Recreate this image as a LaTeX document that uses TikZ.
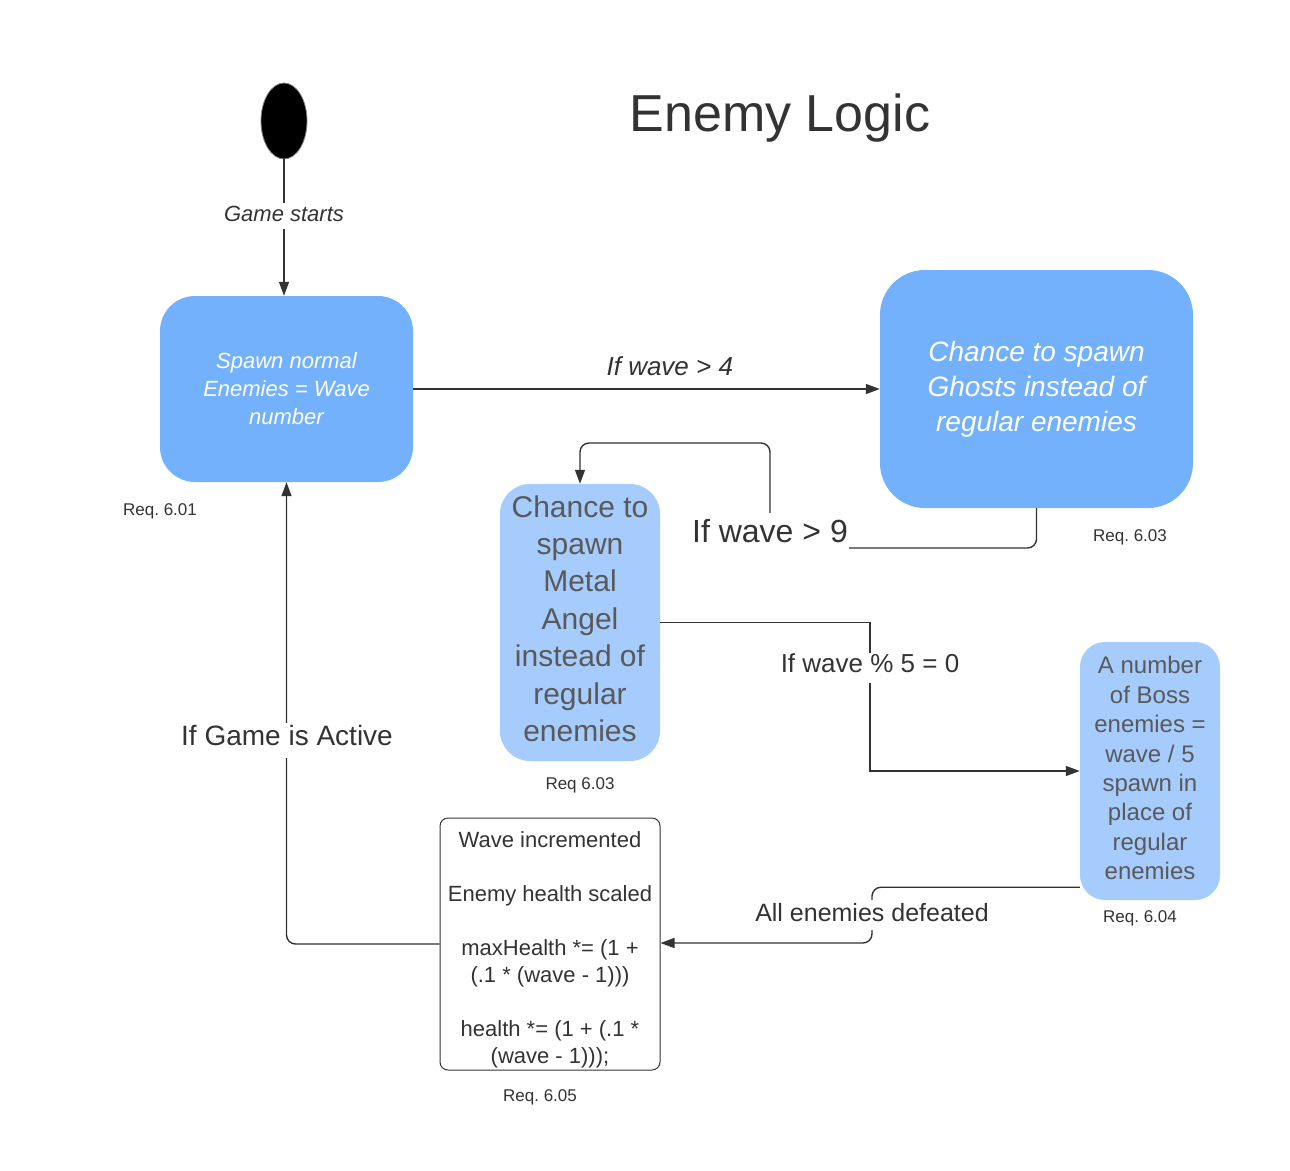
\documentclass[tikz,border=0pt]{standalone}
\usepackage{fontspec}
\setmainfont{Liberation Sans}
\usetikzlibrary{arrows.meta,calc,shapes.geometric}
\definecolor{darkblue}{HTML}{73B1FC}
\definecolor{lightblue}{HTML}{A6CCFD}
\definecolor{ink}{HTML}{333333}
\definecolor{greytext}{HTML}{595959}
\frenchspacing
\begin{document}
\begin{tikzpicture}[x=1pt,y=-1pt,
  statebox/.style={inner sep=0pt, align=center},
  conn/.style={draw=ink, line width=1.4pt, -{Triangle[length=14pt,width=10pt]}},
  lab/.style={fill=white, text=ink, anchor=base, inner xsep=1pt, inner ysep=0pt},
  req/.style={text=ink, font=\fontsize{17}{20}\selectfont}]
\useasboundingbox (0,0) rectangle (1290,1170);
\fill[white] (0,0) rectangle (1290,1170);

\node[text=ink, font=\fontsize{52}{60}\selectfont] (title) at (780,118) {Enemy Logic};

\node[ellipse, fill=black, draw=gray, line width=0.8pt, minimum width=46pt, minimum height=76pt, inner sep=0pt] (start) at (284,121) {};

\node[statebox, fill=darkblue, rounded corners=35pt, minimum width=253pt, minimum height=186pt,
  text=white, font=\fontsize{22}{28}\selectfont\itshape] (A) at (286.5,389)
  {Spawn normal\\Enemies = Wave\\number};

\node[statebox, fill=darkblue, rounded corners=45pt, minimum width=313pt, minimum height=238pt,
  text=white, font=\fontsize{28}{35}\selectfont\itshape] (B) at (1036.5,389)
  {Chance to spawn\\Ghosts instead of\\regular enemies};

\node[statebox, fill=lightblue, rounded corners=30pt, minimum width=160pt, minimum height=277pt,
  text=greytext, font=\fontsize{30}{37.4}\selectfont] (C) at (580,622.5)
  {Chance to\\spawn\\Metal\\Angel\\instead of\\regular\\enemies\rule[-8pt]{0pt}{8pt}};

\node[statebox, fill=lightblue, rounded corners=25pt, minimum width=140pt, minimum height=258pt,
  text=greytext, font=\fontsize{24}{29.4}\selectfont] (D) at (1150,771)
  {A number\\of Boss\\enemies =\\wave / 5\\spawn in\\place of\\regular\\enemies\rule[-6pt]{0pt}{6pt}};

\node[statebox, fill=white, draw=ink, line width=1pt, rounded corners=8pt, minimum width=220pt, minimum height=252pt,
  text=ink, font=\fontsize{22}{27}\selectfont] (E) at (550,944)
  {\rule{0pt}{28pt}Wave incremented\\[27pt]Enemy health scaled\\[27pt]maxHealth *= (1 +\\(.1 * (wave - 1)))\\[27pt]health *= (1 + (.1 *\\(wave - 1)));};

\node[req] (rA) at (160,511) {Req. 6.01};
\node[req] (rB) at (1130,537) {Req. 6.03};
\node[req] (rC) at (580,785) {Req 6.03};
\node[req] (rD) at (1140,918) {Req. 6.04};
\node[req] (rE) at (540,1097) {Req. 6.05};

% start -> A
\draw[conn] (start.south) -- (start.south |- A.north);
\node[lab, text height=18pt, text depth=8pt, font=\fontsize{22}{26}\selectfont\itshape] (lg) at (284,221) {Game starts};

% A -> B
\draw[conn] (A.east) -- (B.west)
  node[text=ink, pos=0.55, yshift=23pt, font=\fontsize{26}{30}\selectfont\itshape] {If wave > 4};

% B -> C
\draw[conn, rounded corners=9pt] (B.south) -- (1036.5,548) -- (770,548) -- (770,443) -- (580,443) -- (C.north);
\node[lab, text height=30pt, text depth=8pt, font=\fontsize{32}{36}\selectfont] (l9) at (770,542.5) {If wave > 9};

% C -> D
\draw[conn] (C.east) -| (870,771) -- (D.west);
\node[lab, text height=19pt, text depth=11pt, font=\fontsize{26}{30}\selectfont] (l5) at (870,672) {If wave \% 5 = 0};

% D -> E
\draw[conn, rounded corners=9pt] ($(D.south west)+(0,-13)$) -| (872,943) -- (E.east |- 872,943);
\node[lab, text height=21pt, text depth=9pt, font=\fontsize{25}{29}\selectfont] (ld) at (872,921) {All enemies defeated};

% E -> A
\draw[conn, rounded corners=9pt] (E.west) -| (A.south);
\node[lab, text height=22pt, text depth=13pt, font=\fontsize{28}{32}\selectfont] (la) at (287,745) {If Game is Active};
\end{tikzpicture}
\end{document}
